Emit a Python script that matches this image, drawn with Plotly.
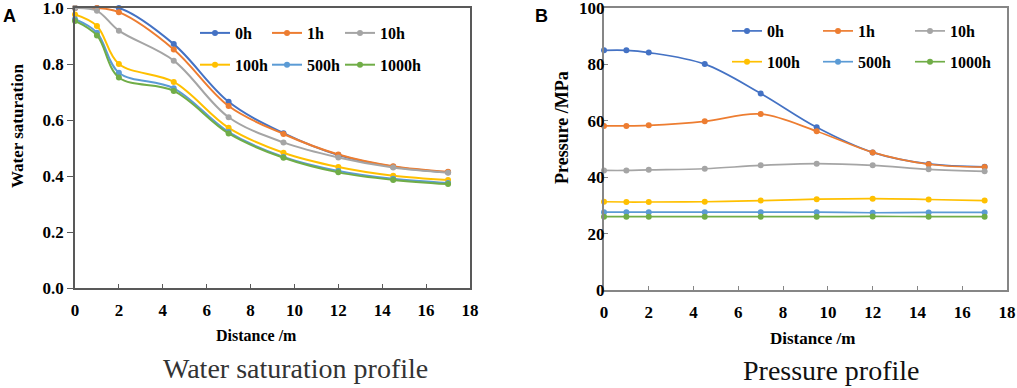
import plotly.graph_objects as go

distance = [0, 1, 2, 4.5, 7, 9.5, 12, 14.5, 17]
series_names = ["0h", "1h", "10h", "100h", "500h", "1000h"]

sw_0h = [1.0, 1.0, 1.0, 0.871, 0.665, 0.553, 0.475, 0.433, 0.413]
sw_1h = [1.0, 1.0, 0.985, 0.852, 0.650, 0.550, 0.477, 0.435, 0.415]
sw_10h = [1.0, 0.99, 0.919, 0.812, 0.610, 0.520, 0.466, 0.430, 0.412]
sw_100h = [0.977, 0.936, 0.800, 0.736, 0.572, 0.483, 0.432, 0.401, 0.386]
sw_500h = [0.960, 0.912, 0.769, 0.713, 0.557, 0.468, 0.418, 0.390, 0.375]
sw_1000h = [0.954, 0.902, 0.752, 0.704, 0.552, 0.465, 0.413, 0.386, 0.371]

p_0h = [85.0, 85.0, 84.2, 80.1, 69.7, 57.7, 48.8, 44.7, 43.7]
p_1h = [58.2, 58.2, 58.4, 59.8, 62.4, 56.3, 48.8, 44.6, 43.6]
p_10h = [42.4, 42.4, 42.6, 43.0, 44.2, 44.8, 44.2, 42.8, 42.1]
p_100h = [31.3, 31.2, 31.2, 31.3, 31.7, 32.2, 32.4, 32.1, 31.7]
p_500h = [27.6, 27.6, 27.6, 27.6, 27.6, 27.6, 27.4, 27.5, 27.5]
p_1000h = [26.0, 26.0, 26.0, 26.0, 26.0, 26.0, 26.1, 26.0, 26.0]

sw_series = [sw_0h, sw_1h, sw_10h, sw_100h, sw_500h, sw_1000h]
p_series = [p_0h, p_1h, p_10h, p_100h, p_500h, p_1000h]
colors = ["#4472C4", "#ED7D31", "#A5A5A5", "#FFC000", "#5B9BD5", "#70AD47"]

SERIF = "Liberation Serif"
SANS = "Liberation Sans"

W, H = 1017, 388

def fx(px):
    return px / W

def fy(py):
    return 1 - py / H

# legend columns: series i -> column i % 3
left_legs = ["legend", "legend2", "legend3"]
right_legs = ["legend4", "legend5", "legend6"]

fig = go.Figure()

for i, (name, vals, c) in enumerate(zip(series_names, sw_series, colors)):
    fig.add_trace(go.Scatter(
        x=distance, y=vals, name=name, mode="lines+markers",
        line=dict(color=c, width=2, shape="spline", smoothing=1),
        marker=dict(color=c, size=6),
        xaxis="x", yaxis="y", cliponaxis=False,
        legend=left_legs[i % 3], legendgroup="L" + name,
    ))

for i, (name, vals, c) in enumerate(zip(series_names, p_series, colors)):
    fig.add_trace(go.Scatter(
        x=distance, y=vals, name=name, mode="lines+markers",
        line=dict(color=c, width=1.7, shape="spline", smoothing=1),
        marker=dict(color=c, size=6),
        xaxis="x2", yaxis="y2", cliponaxis=False,
        legend=right_legs[i % 3], legendgroup="R" + name,
    ))

tickfont = dict(family=SERIF, size=17, color="#000000", weight="bold")
legfont = dict(family=SERIF, size=16, color="#000000", weight="bold")

axis_common = dict(showgrid=False, zeroline=False, showline=True, mirror=True,
                   tickfont=tickfont, ticks="inside", automargin=False,
                   ticklabeloverflow="allow")

fig.update_layout(
    width=W, height=H,
    margin=dict(l=0, r=0, t=0, b=0),
    paper_bgcolor="white", plot_bgcolor="white",
    xaxis=dict(axis_common, domain=[fx(75), fx(470)], range=[0, 18], dtick=2,
               linecolor="#595959", linewidth=1.5, ticklen=4, tickcolor="#595959",
               anchor="y", ticklabelstandoff=6),
    yaxis=dict(axis_common, domain=[fy(288), fy(8)], range=[0, 1.0], dtick=0.2,
               tickformat=".1f", linecolor="#595959", linewidth=1.5, ticks="outside",
               ticklen=6, tickcolor="#595959", anchor="x", ticklabelstandoff=0),
    xaxis2=dict(axis_common, domain=[fx(604), fx(1007)], range=[0, 18], dtick=2,
                linecolor="#868686", linewidth=2, ticklen=4, tickcolor="#868686",
                anchor="y2", ticklabelstandoff=6),
    yaxis2=dict(axis_common, domain=[fy(290), fy(8)], range=[0, 100], dtick=20,
                linecolor="#868686", linewidth=2, ticks="inside", ticklen=4,
                tickcolor="#868686", anchor="x2", ticklabelstandoff=-6),
)

left_x = [195, 267, 340]
right_x = [727, 818, 910]
legs = {}
for k, px in zip(left_legs, left_x):
    legs[k] = dict(orientation="v", bgcolor="rgba(0,0,0,0)", borderwidth=0,
                   font=legfont, xanchor="left", yanchor="top", itemwidth=30,
                   tracegroupgap=8, x=fx(px), y=fy(16))
for k, px in zip(right_legs, right_x):
    legs[k] = dict(orientation="v", bgcolor="rgba(0,0,0,0)", borderwidth=0,
                   font=legfont, xanchor="left", yanchor="top", itemwidth=30,
                   tracegroupgap=7, x=fx(px), y=fy(14))
fig.update_layout(**legs)

ann = []
def add_text(text, px, py, font, angle=0):
    ann.append(dict(text=text, x=fx(px), y=fy(py), xref="paper", yref="paper",
                    showarrow=False, textangle=angle, xanchor="center",
                    yanchor="middle", font=font))

add_text("A", 9, 16, dict(family=SANS, size=18, color="#000", weight="bold"))
add_text("B", 541, 16, dict(family=SANS, size=18, color="#000", weight="bold"))
add_text("Water saturation", 18, 126, dict(family=SERIF, size=17, color="#000", weight="bold"), -90)
add_text("Pressure /MPa", 562, 128, dict(family=SERIF, size=18, color="#000", weight="bold"), -90)
add_text("Distance /m", 256, 335, dict(family=SERIF, size=16, color="#000", weight="bold"))
add_text("Distance /m", 812, 338, dict(family=SERIF, size=17, color="#000", weight="bold"))
add_text("Water saturation profile", 295, 368, dict(family=SERIF, size=28, color="#333333"))
add_text("Pressure profile", 831, 370, dict(family=SERIF, size=28, color="#111111"))
fig.update_layout(annotations=ann)

fig.write_html("out.html", config={"displayModeBar": False},
               post_script="document.body.style.margin='0';document.body.style.overflow='hidden';")
